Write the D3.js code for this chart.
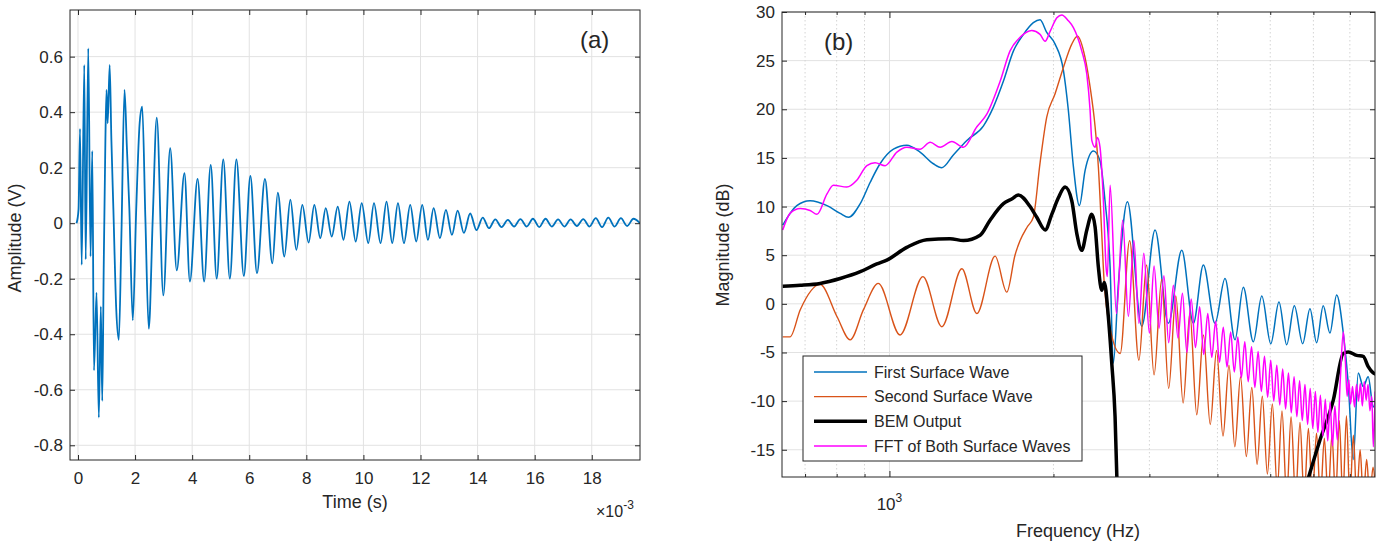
<!DOCTYPE html>
<html>
<head>
<meta charset="utf-8">
<script src="https://cdn.jsdelivr.net/npm/d3@7"></script>
<style>
  body { margin: 0; background: #fff; }
  svg text { font-family: "Liberation Sans", Arial, sans-serif; fill: #262626; }
</style>
</head>
<body>
<svg id="chart" width="1383" height="544"></svg>
<script>
// ---------- panel (a): time signal, [time in ms, amplitude V] ----------
const timeTicks = [0, 2, 4, 6, 8, 10, 12, 14, 16, 18];
const ampTicks = [-0.8, -0.6, -0.4, -0.2, 0, 0.2, 0.4, 0.6];
const wave = [
  [-0.05, 0.0], [0.02, 0.05], [0.07, 0.34], [0.13, -0.15], [0.22, 0.57], [0.27, -0.13],
  [0.36, 0.63], [0.44, -0.12], [0.50, 0.26], [0.56, -0.53], [0.65, -0.25], [0.73, -0.70],
  [0.80, -0.30], [0.85, -0.64], [0.90, -0.17], [0.96, 0.30], [1.00, 0.48], [1.04, 0.36],
  [1.11, 0.57], [1.17, 0.30], [1.24, 0.05], [1.34, -0.31], [1.43, -0.42], [1.52, -0.05],
  [1.63, 0.48], [1.71, 0.28], [1.80, 0.05], [1.92, -0.35], [2.04, 0.05], [2.16, 0.36],
  [2.25, 0.42], [2.36, 0.02], [2.48, -0.38], [2.62, 0.02], [2.76, 0.38], [2.99, -0.26],
  [3.23, 0.27], [3.46, -0.17], [3.73, 0.18], [3.92, -0.21], [4.19, 0.16], [4.42, -0.21],
  [4.65, 0.21], [4.86, -0.20], [5.09, 0.23], [5.32, -0.20], [5.55, 0.23], [5.81, -0.19],
  [6.04, 0.17], [6.27, -0.18], [6.55, 0.16], [6.81, -0.145], [7.00, 0.11], [7.23, -0.12],
  [7.44, 0.085], [7.65, -0.096], [7.86, 0.066], [8.08, -0.07], [8.28, 0.066], [8.49, -0.054],
  [8.68, 0.054], [8.89, -0.048], [9.10, 0.06], [9.30, -0.06], [9.51, 0.078], [9.73, -0.066],
  [9.94, 0.072], [10.17, -0.072], [10.37, 0.072], [10.60, -0.072], [10.81, 0.078], [11.01, -0.072],
  [11.21, 0.072], [11.42, -0.072], [11.64, 0.066], [11.85, -0.066], [12.06, 0.066], [12.26, -0.06],
  [12.46, 0.054], [12.68, -0.054], [12.89, 0.048], [13.10, -0.042], [13.30, 0.045], [13.52, -0.035],
  [13.74, 0.035], [13.96, -0.025], [14.18, 0.02], [14.40, -0.018], [14.62, 0.014], [14.84, -0.014],
  [15.06, 0.012], [15.28, -0.012], [15.50, 0.015], [15.72, -0.012], [15.94, 0.016], [16.16, -0.014],
  [16.38, 0.016], [16.60, -0.012], [16.82, 0.014], [17.04, -0.012], [17.26, 0.014], [17.48, -0.010],
  [17.70, 0.015], [17.92, -0.012], [18.14, 0.018], [18.36, -0.014], [18.58, 0.020], [18.80, -0.012],
  [19.02, 0.018], [19.24, -0.010], [19.46, 0.016], [19.69, 0.0]
];

// ---------- panel (b): spectra, [frequency Hz, magnitude dB] ----------
const dbTicks = [-15, -10, -5, 0, 5, 10, 15, 20, 25, 30];
const freqMajor = [1000];
const freqMinor = [700, 800, 900, 2000, 3000, 4000, 5000, 6000, 7000];

const firstWave = [
  [637, 8.1], [676, 10.1], [715, 10.6], [768, 10.1], [812, 9.3], [841, 8.9], [884, 10.3],
  [922, 12.5], [961, 14.4], [1017, 15.9], [1076, 16.3], [1138, 15.6], [1204, 14.4], [1248, 14.0],
  [1310, 15.3], [1387, 16.8], [1488, 18.3], [1551, 20.2], [1619, 22.9], [1689, 26.0], [1762, 27.7],
  [1837, 28.9], [1890, 29.2], [1944, 27.9], [2014, 26.7], [2086, 24.0], [2130, 19.9], [2176, 14.1],
  [2232, 10.1], [2286, 13.7], [2368, 15.7], [2435, 14.7], [2487, 10.6], [2541, 3.8], [2576, -6.1],
  [2632, 2.1], [2734, 10.5], [2905, -2.3], [3073, 7.6], [3250, -2.0], [3440, 5.5], [3613, -2.0],
  [3769, 4.0], [3959, -2.0], [4130, 2.6], [4308, -3.7], [4462, 1.7], [4655, -3.9], [4825, 0.8],
  [5011, -4.1], [5188, 0.2], [5360, -4.2], [5536, -0.2], [5735, -4.1], [5914, -0.5], [6083, -4.0],
  [6255, -0.2], [6434, -3.0], [6620, 0.9], [6808, -3.0], [6953, -8.2], [7100, -16.0], [7253, -7.1],
  [7407, -8.5], [7565, -7.5], [7727, -10.6], [7840, -9.1]
];

const secondWave = [
  [637, -3.4], [657, -3.4], [686, -0.6], [746, 2.0], [801, -1.3], [847, -3.7], [896, -0.6],
  [954, 2.1], [1046, -3.2], [1152, 2.8], [1248, -2.35], [1358, 3.6], [1447, -1.0], [1563, 4.9],
  [1642, 1.2], [1700, 5.0], [1737, 6.5], [1790, 7.9], [1837, 8.9], [1890, 14.5], [1944, 19.2],
  [2014, 21.6], [2086, 24.3], [2161, 26.7], [2213, 27.5], [2286, 25.3], [2335, 22.3], [2385, 18.2],
  [2418, 14.1], [2453, 7.2], [2477, 2.4], [2541, -2.5], [2652, -5.1],
  [2760, 6.5], [2870, -5.8], [2965, 4.0], [3060, -7.3], [3160, 2.5], [3255, -8.7], [3355, 0.8],
  [3460, -10.2], [3560, -1.0], [3665, -11.4], [3770, -3.2], [3880, -12.4], [3985, -4.8], [4095, -13.6],
  [4200, -6.3], [4305, -14.7], [4410, -7.5], [4520, -15.7], [4625, -8.6], [4730, -16.5], [4835, -9.5],
  [4940, -17.5], [5045, -10.3], [5150, -19], [5255, -11.0], [5360, -20], [5460, -11.6], [5565, -20],
  [5670, -12.2], [5770, -20], [5875, -12.8], [5975, -20], [6080, -13.3], [6180, -20], [6285, -13.8],
  [6385, -20], [6490, -13.5], [6590, -20], [6695, -12.0], [6795, -20], [6900, -11.5], [7000, -20],
  [7105, -13.5], [7205, -20], [7310, -15], [7410, -20], [7515, -16], [7615, -20], [7720, -16.8],
  [7800, -19]
];

const bemOutput = [
  [637, 1.8], [686, 1.9], [746, 2.1], [812, 2.6], [884, 3.3], [948, 4.1], [989, 4.5], [1076, 5.8],
  [1171, 6.6], [1292, 6.7], [1367, 6.5], [1467, 7.05], [1530, 8.6], [1619, 10.3], [1680, 10.8],
  [1725, 11.2], [1812, 10.0], [1864, 8.9], [1931, 7.6], [1986, 9.2], [2042, 10.9], [2101, 12.0],
  [2161, 10.6], [2208, 7.2], [2254, 5.5], [2303, 7.6], [2352, 9.2], [2385, 7.9], [2418, 3.8],
  [2453, 1.4], [2480, 2.2], [2522, -1.3], [2559, -6.1], [2595, -11.6], [2620, -19.5],
  [2700, null],
  [5760, -19.5], [6170, -14.0], [6527, -9.9], [6808, -5.1], [6953, -4.95], [7203, -5.3],
  [7407, -5.4], [7565, -6.45], [7727, -7.1], [7880, -7.3]
];

const bothWaves = [
  [637, 7.6], [657, 9.3], [686, 9.8], [715, 9.6], [736, 9.2], [768, 11.3], [789, 12.2], [835, 12.0],
  [871, 12.7], [909, 14.2], [941, 14.5], [982, 14.2], [1032, 15.6], [1076, 16.1], [1138, 15.9],
  [1188, 16.6], [1239, 16.1], [1302, 16.7], [1367, 16.1], [1447, 18.2], [1509, 19.5], [1597, 22.9],
  [1665, 26.0], [1737, 27.4], [1825, 28.1], [1890, 27.7], [1931, 27.0], [1972, 28.0], [2029, 29.4],
  [2072, 29.7], [2130, 29.1], [2176, 28.4], [2254, 26.0], [2303, 23.6], [2335, 19.9], [2352, 16.8],
  [2385, 16.1], [2408, 17.1], [2435, 16.1], [2470, 10.6], [2498, 3.8], [2512, 2.8], [2541, 12.2],
  [2610, -1.0], [2680, 8.6], [2745, -1.3], [2810, 6.5], [2870, -2.0], [2930, 5.2], [3000, -3.0],
  [3060, 3.9], [3125, -2.5], [3190, 2.9], [3255, -4.0], [3320, 1.9], [3385, -3.5], [3450, 1.1],
  [3515, -5.0], [3580, 0.5], [3645, -4.5], [3710, -0.3], [3775, -5.2], [3840, -1.0], [3905, -5.5],
  [3970, -1.8], [4035, -6.0], [4100, -2.4], [4165, -6.5], [4230, -2.9], [4295, -7.0], [4360, -3.4],
  [4425, -7.6], [4490, -3.9], [4555, -8.0], [4620, -4.4], [4685, -8.6], [4750, -4.9], [4815, -9.0],
  [4880, -5.4], [4945, -9.6], [5010, -5.8], [5075, -10.0], [5140, -6.3], [5205, -10.4], [5270, -6.7],
  [5335, -10.8], [5400, -7.1], [5465, -11.2], [5530, -7.5], [5595, -11.6], [5660, -7.9], [5725, -12.0],
  [5790, -8.3], [5855, -12.4], [5920, -8.7], [5985, -12.8], [6050, -9.0], [6115, -13.2], [6180, -9.4],
  [6245, -13.6], [6310, -9.8], [6375, -14.1], [6440, -10.1], [6505, -14.6], [6570, -10.5], [6640, -14.0],
  [6720, -8.0], [6810, -2.9], [6870, -6.0], [6920, -9.5], [6970, -7.8], [7020, -10.3], [7080, -8.5],
  [7140, -10.6], [7200, -8.3], [7260, -10.0], [7320, -8.2], [7380, -10.5], [7440, -8.0], [7500, -9.9],
  [7560, -8.3], [7620, -11.0], [7680, -9.5], [7730, -14.7], [7790, -9.0]
];

const seriesNames = ['First Surface Wave', 'Second Surface Wave', 'BEM Output', 'FFT of Both Surface Waves'];
const seriesColors = ['#0072BD', '#D95319', '#000000', '#FF00FF'];
const seriesWidths = [1.5, 1.4, 3.5, 1.5];
const seriesData = [firstWave, secondWave, bemOutput, bothWaves];

const svg = d3.select('#chart');
const axisColor = '#262626';
const gridColor = '#e2e2e2';

// helper: tidy an axis group the MATLAB way
function styleAxis(g, fontSize) {
  g.select('.domain').remove();
  g.selectAll('.tick line').attr('stroke', axisColor);
  g.selectAll('.tick text').attr('font-size', fontSize).attr('fill', axisColor)
    .attr('font-family', '"Liberation Sans", Arial, sans-serif');
}

// ======================= panel (a) =======================
const xA = d3.scaleLinear().domain([-0.28, 19.69]).range([70, 640]);
const yA = d3.scaleLinear().domain([-0.853, 0.768]).range([460, 10]);

const panelA = svg.append('g');
panelA.append('defs').append('clipPath').attr('id', 'clipA')
  .append('rect').attr('x', 70).attr('y', 10).attr('width', 570).attr('height', 450);

// grid
panelA.append('g').selectAll('line').data(timeTicks).enter().append('line')
  .attr('x1', d => xA(d)).attr('x2', d => xA(d)).attr('y1', 10).attr('y2', 460)
  .attr('stroke', gridColor);
panelA.append('g').selectAll('line').data(ampTicks).enter().append('line')
  .attr('x1', 70).attr('x2', 640).attr('y1', d => yA(d)).attr('y2', d => yA(d))
  .attr('stroke', gridColor);

// signal
panelA.append('path')
  .datum(wave)
  .attr('clip-path', 'url(#clipA)')
  .attr('fill', 'none')
  .attr('stroke', '#0072BD')
  .attr('stroke-width', 1.8)
  .attr('stroke-linejoin', 'round')
  .attr('d', d3.line().x(d => xA(d[0])).y(d => yA(d[1])).curve(d3.curveMonotoneX));

// axes (ticks inside, mirrored)
panelA.append('g').attr('transform', 'translate(0,460)')
  .call(d3.axisBottom(xA).tickValues(timeTicks).tickSize(-5).tickPadding(12).tickFormat(d3.format('d')))
  .call(g => styleAxis(g, 17));
panelA.append('g').attr('transform', 'translate(0,10)')
  .call(d3.axisTop(xA).tickValues(timeTicks).tickSize(-5).tickFormat(''))
  .call(g => styleAxis(g, 17));
panelA.append('g').attr('transform', 'translate(70,0)')
  .call(d3.axisLeft(yA).tickValues(ampTicks).tickSize(-5).tickPadding(7).tickFormat(d => d3.format('.1f')(d).replace('0.0', '0').replace('−', '-')))
  .call(g => styleAxis(g, 17));
panelA.append('g').attr('transform', 'translate(640,0)')
  .call(d3.axisRight(yA).tickValues(ampTicks).tickSize(-5).tickFormat(''))
  .call(g => styleAxis(g, 17));

panelA.append('rect').attr('x', 70).attr('y', 10).attr('width', 570).attr('height', 450)
  .attr('fill', 'none').attr('stroke', axisColor).attr('stroke-width', 1);

panelA.append('text').attr('x', 355).attr('y', 508).attr('text-anchor', 'middle')
  .attr('font-size', 18).text('Time (s)');
panelA.append('text').attr('transform', 'translate(21,238) rotate(-90)').attr('text-anchor', 'middle')
  .attr('font-size', 18).text('Amplitude (V)');
const expA = panelA.append('text').attr('x', 596).attr('y', 517).attr('font-size', 16);
expA.append('tspan').text('\u00d710');
expA.append('tspan').attr('dy', -8).attr('font-size', 12).text('-3');
panelA.append('text').attr('x', 580).attr('y', 48).attr('font-size', 24).attr('fill', '#000').text('(a)');

// ======================= panel (b) =======================
const xB = d3.scaleLog().domain([635, 7785]).range([782, 1375]);
const yB = d3.scaleLinear().domain([-17.8, 30]).range([477, 12]);

const panelB = svg.append('g');
panelB.append('defs').append('clipPath').attr('id', 'clipB')
  .append('rect').attr('x', 782).attr('y', 12).attr('width', 593).attr('height', 465);

// grid
panelB.append('g').selectAll('line').data(dbTicks).enter().append('line')
  .attr('x1', 782).attr('x2', 1375).attr('y1', d => yB(d)).attr('y2', d => yB(d))
  .attr('stroke', gridColor);
panelB.append('g').selectAll('line').data(freqMinor).enter().append('line')
  .attr('x1', d => xB(d)).attr('x2', d => xB(d)).attr('y1', 12).attr('y2', 477)
  .attr('stroke', '#d4d4d4').attr('stroke-dasharray', '1.5,2.5');
panelB.append('g').selectAll('line').data(freqMajor).enter().append('line')
  .attr('x1', d => xB(d)).attr('x2', d => xB(d)).attr('y1', 12).attr('y2', 477)
  .attr('stroke', gridColor);

// curves
const lineB = d3.line()
  .defined(d => d[1] !== null)
  .x(d => xB(d[0])).y(d => yB(d[1]))
  .curve(d3.curveMonotoneX);

panelB.append('g').attr('clip-path', 'url(#clipB)')
  .selectAll('path').data(seriesData).enter().append('path')
  .attr('fill', 'none')
  .attr('stroke', (d, i) => seriesColors[i])
  .attr('stroke-width', (d, i) => seriesWidths[i])
  .attr('stroke-linejoin', 'round')
  .attr('d', d => lineB(d));

// axes
panelB.append('g').attr('transform', 'translate(0,477)')
  .call(d3.axisBottom(xB).tickValues(freqMajor).tickSize(-6).tickFormat(''))
  .call(g => styleAxis(g, 17));
panelB.append('g').attr('transform', 'translate(0,477)')
  .call(d3.axisBottom(xB).tickValues(freqMinor).tickSize(-3).tickFormat(''))
  .call(g => styleAxis(g, 17));
panelB.append('g').attr('transform', 'translate(0,12)')
  .call(d3.axisTop(xB).tickValues(freqMajor).tickSize(-6).tickFormat(''))
  .call(g => styleAxis(g, 17));
panelB.append('g').attr('transform', 'translate(0,12)')
  .call(d3.axisTop(xB).tickValues(freqMinor).tickSize(-3).tickFormat(''))
  .call(g => styleAxis(g, 17));
panelB.append('g').attr('transform', 'translate(782,0)')
  .call(d3.axisLeft(yB).tickValues(dbTicks).tickSize(-5).tickPadding(7).tickFormat(d => String(d)))
  .call(g => styleAxis(g, 17));
panelB.append('g').attr('transform', 'translate(1375,0)')
  .call(d3.axisRight(yB).tickValues(dbTicks).tickSize(-5).tickFormat(''))
  .call(g => styleAxis(g, 17));

panelB.append('rect').attr('x', 782).attr('y', 12).attr('width', 593).attr('height', 465)
  .attr('fill', 'none').attr('stroke', axisColor).attr('stroke-width', 1);

// 10^3 label
freqMajor.forEach(f => {
  const t = panelB.append('text').attr('x', xB(f)).attr('y', 510).attr('text-anchor', 'middle').attr('font-size', 17);
  t.append('tspan').text('10');
  t.append('tspan').attr('dy', -8).attr('font-size', 12).text(String(Math.round(Math.log10(f))));
});

panelB.append('text').attr('x', 1078).attr('y', 537).attr('text-anchor', 'middle')
  .attr('font-size', 18).text('Frequency (Hz)');
panelB.append('text').attr('transform', 'translate(729,245) rotate(-90)').attr('text-anchor', 'middle')
  .attr('font-size', 18).text('Magnitude (dB)');
panelB.append('text').attr('x', 824).attr('y', 50).attr('font-size', 24).attr('fill', '#000').text('(b)');

// legend
const legend = panelB.append('g');
legend.append('rect').attr('x', 803).attr('y', 356).attr('width', 279).attr('height', 105)
  .attr('fill', '#fff').attr('stroke', axisColor).attr('stroke-width', 1);
const rowY = d3.scalePoint().domain(seriesNames).range([372, 446]);
const items = legend.selectAll('g.item').data(seriesNames).enter().append('g').attr('class', 'item');
items.append('line')
  .attr('x1', 814).attr('x2', 867)
  .attr('y1', d => rowY(d)).attr('y2', d => rowY(d))
  .attr('stroke', (d, i) => seriesColors[i])
  .attr('stroke-width', (d, i) => seriesWidths[i]);
items.append('text')
  .attr('x', 874).attr('y', d => rowY(d)).attr('dy', '0.35em')
  .attr('font-size', 16).attr('fill', '#000')
  .text(d => d);
</script>
</body>
</html>
